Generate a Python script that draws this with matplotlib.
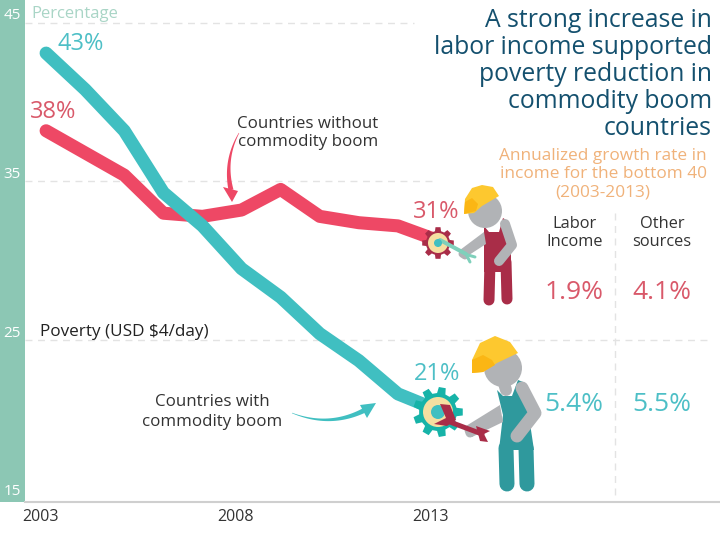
import numpy as np
import matplotlib
matplotlib.use("Agg")
import matplotlib.pyplot as plt
from matplotlib.patches import Polygon, Circle, Rectangle
from matplotlib.transforms import ScaledTranslation

years = [2003, 2004, 2005, 2006, 2007, 2008, 2009, 2010, 2011, 2012, 2013]
with_boom = [43.1, 40.8, 38.2, 34.3, 32.2, 29.5, 27.7, 25.4, 23.7, 21.6, 20.6]
without_boom = [38.2, 36.8, 35.4, 33.0, 32.8, 33.2, 34.5, 32.8, 32.4, 32.2, 31.3]
y_ticks = [45, 35, 25, 15]
x_ticks = [2003, 2008, 2013]
title_lines = ["A strong increase in", "labor income supported", "poverty reduction in", "commodity boom", "countries"]
subtitle = ["Annualized growth rate in", "income for the bottom 40", "(2003-2013)"]
without_rates = ["1.9%", "4.1%"]
with_rates = ["5.4%", "5.5%"]

FONT = "Open Sans"
TEAL = "#40bfc1"
RED = "#ee4865"
REDTXT = "#d9596a"
TEALTXT = "#4dbfc6"
BAND = "#8cc7b4"
GRID = "#e3e3e3"
GREY = "#b1b3b6"
CRIM = "#a92d48"
DTEAL = "#2f999d"
plt.rcParams["font.family"] = [FONT, "DejaVu Sans"]

fig = plt.figure(figsize=(7.2, 5.4), dpi=100, facecolor="white")
fig.patches.append(Rectangle((0, 38 / 540), 25 / 720, 502 / 540, transform=fig.transFigure,
                             facecolor=BAND, edgecolor="none", zorder=-1))
ax = fig.add_axes([25 / 720, 38 / 540, 695 / 720, 502 / 540])
ax.patch.set_alpha(0)
ax.set_xlim(2002.46, 2020.24)
ax.set_ylim(14.78, 46.45)
for s in ["top", "left", "right"]:
    ax.spines[s].set_visible(False)
ax.spines["bottom"].set_color("#cfcfcf")
ax.spines["bottom"].set_linewidth(1.5)

ax.set_yticks(y_ticks)
ax.set_yticklabels([str(v) for v in y_ticks], color="white", fontsize=11)
ax.set_xticks(x_ticks)
ax.set_xticklabels([str(v) for v in x_ticks], color="#333333", fontsize=11.5)
ax.tick_params(length=0, axis="y", pad=3)
ax.tick_params(length=0, axis="x", pad=5)
up = ScaledTranslation(0, 9 / 100, fig.dpi_scale_trans)
left = ScaledTranslation(-6 / 100, 0, fig.dpi_scale_trans)
for lab in ax.get_yticklabels():
    lab.set_transform(lab.get_transform() + up)
for lab in ax.get_xticklabels():
    lab.set_transform(lab.get_transform() + left)

# gridlines
dash = (0, (5, 4))
ax.plot([2002.46, 2012.4], [45, 45], color=GRID, lw=1, ls=dash, zorder=1)
ax.plot([2002.46, 2013.0], [35, 35], color=GRID, lw=1, ls=dash, zorder=1)
ax.plot([2002.46, 2019.9], [25, 25], color=GRID, lw=1, ls=dash, zorder=1)

# series
ax.plot(years, with_boom, color=TEAL, lw=9.4, solid_capstyle="round", solid_joinstyle="round", zorder=3)
ax.plot(years, without_boom, color=RED, lw=9.4, solid_capstyle="round", solid_joinstyle="round", zorder=2)

# overlay in pixels for text and illustration
ov = fig.add_axes([0, 0, 1, 1], zorder=5)
ov.set_xlim(0, 720)
ov.set_ylim(540, 0)
ov.axis("off")
ov.patch.set_alpha(0)


def T(x, y, s, **k):
    k.setdefault("ha", "left")
    k.setdefault("va", "center")
    return ov.text(x, y + 1.5, s, **k)


T(31, 13, "Percentage", color="#a9d5c6", fontsize=12)
T(58, 43, "43%", color=TEALTXT, fontsize=17)
T(30, 110, "38%", color=REDTXT, fontsize=17)
T(413, 210, "31%", color=REDTXT, fontsize=17)
T(414, 372, "21%", color=TEALTXT, fontsize=17)
T(40, 330, "Poverty (USD $4/day)", color="#222222", fontsize=12.3)
T(308, 122, "Countries without", color="#333333", fontsize=12.2, ha="center")
T(308, 141, "commodity boom", color="#333333", fontsize=12.2, ha="center")
T(212, 401, "Countries with", color="#333333", fontsize=12.2, ha="center")
T(212, 421, "commodity boom", color="#333333", fontsize=12.2, ha="center")
for i, line in enumerate(title_lines):
    T(712, 19 + 27 * i, line, color="#14506e", fontsize=17.8, ha="right")
for i, line in enumerate(subtitle):
    T(603, 155 + 18 * i, line, color="#f0b27a", fontsize=12.4, ha="center")
T(575, 223, "Labor", color="#333333", fontsize=11.8, ha="center")
T(575, 240, "Income", color="#333333", fontsize=11.8, ha="center")
T(662, 223, "Other", color="#333333", fontsize=11.8, ha="center")
T(662, 240, "sources", color="#333333", fontsize=11.8, ha="center")
T(574, 291, without_rates[0], color=REDTXT, fontsize=19, ha="center")
T(662, 291, without_rates[1], color=REDTXT, fontsize=19, ha="center")
T(574, 403, with_rates[0], color=TEALTXT, fontsize=19, ha="center")
T(662, 403, with_rates[1], color=TEALTXT, fontsize=19, ha="center")
ov.plot([615, 615], [213, 495], color=GRID, lw=1, ls=dash)


def px(w):
    return w * 0.72


def limb(pts, w, c, z=6):
    a = np.array(pts)
    ov.plot(a[:, 0], a[:, 1], color=c, lw=px(w), solid_capstyle="round", solid_joinstyle="round", zorder=z)


def poly(pts, c, z=6):
    ov.add_patch(Polygon(pts, closed=True, facecolor=c, edgecolor="none", zorder=z))


def gear(cx, cy, r, n, c, z=7):
    pts = []
    for i in range(n):
        a = 2 * np.pi * i / n
        d = 2 * np.pi / n
        for off, rr in [(-0.32, 0.76), (-0.2, 1.0), (0.2, 1.0), (0.32, 0.76)]:
            t = a + off * d
            pts.append((cx + r * rr * np.cos(t), cy + r * rr * np.sin(t)))
    poly(pts, c, z)


def tapered(p0, p1, p2, w0, w1, c):
    t = np.linspace(0, 1, 30)[:, None]
    p0, p1, p2 = map(np.array, (p0, p1, p2))
    b = (1 - t) ** 2 * p0 + 2 * t * (1 - t) * p1 + t ** 2 * p2
    d = np.gradient(b, axis=0)
    n = np.c_[-d[:, 1], d[:, 0]] / np.linalg.norm(d, axis=1)[:, None]
    hw = (w0 + (w1 - w0) * t) / 2
    poly(np.vstack([b + n * hw, (b - n * hw)[::-1]]), c, 4)


# callout arrows
tapered((239, 133), (224, 160), (231, 190), 0.5, 5, RED)
poly([(223, 187), (238, 191), (232, 202)], RED, 4)
tapered((292, 413), (330, 428), (365, 410), 0.5, 5, TEAL)
poly([(360, 405), (376, 403), (367, 418)], TEAL, 4)

# small worker
limb([(490, 262), (489, 300)], 11, CRIM)
limb([(506, 262), (507, 299)], 11, CRIM)
poly([(484, 226), (489, 232), (499, 232), (503, 218), (509, 222), (511, 256), (511, 272), (484, 272)], CRIM)
limb([(505, 224), (512, 245), (499, 261)], 10, GREY, 7)
poly([(484, 232), (486, 244), (466, 257), (460, 250)], GREY, 7)
limb([(462, 254), (465, 256)], 7, GREY, 7)
ov.add_patch(Circle((485, 211), 17, facecolor=GREY, edgecolor="none", zorder=6))
poly([(464, 214), (465, 199), (472, 188), (482, 185), (493, 187), (499, 196), (482, 206), (474, 213)], "#fdc82f", 7)
poly([(464, 214), (465, 202), (472, 198), (478, 204), (476, 211)], "#fbb614", 8)
gear(438, 243, 16, 8, CRIM)
ov.add_patch(Circle((438, 243), 10, facecolor="#f6dfa1", edgecolor="none", zorder=8))
ov.add_patch(Circle((438, 243), 4, facecolor=TEAL, edgecolor="none", zorder=9))
limb([(440, 240), (466, 254)], 4, "#7fd0bb", 8)
limb([(466, 254), (470, 262)], 3, "#7fd0bb", 8)
limb([(468, 255), (475, 257)], 3, "#7fd0bb", 8)

# large worker
limb([(506, 448), (507, 484)], 15, DTEAL)
limb([(526, 448), (527, 484)], 15, DTEAL)
poly([(497, 390), (503, 396), (512, 396), (518, 380), (523, 382), (531, 430), (534, 450), (499, 450), (503, 415)], DTEAL)
limb([(522, 388), (535, 413), (517, 436)], 13, GREY, 7)
poly([(500, 405), (503, 422), (472, 437), (466, 426)], GREY, 7)
limb([(469, 430), (470, 433)], 9, GREY, 7)
limb([(503, 380), (506, 390)], 12, GREY, 5)
ov.add_patch(Circle((503, 368), 19, facecolor=GREY, edgecolor="none", zorder=6))
poly([(472, 373), (472, 360), (480, 343), (495, 336), (510, 342), (518, 353), (497, 363), (483, 372)], "#fdc82f", 7)
poly([(472, 373), (472, 360), (483, 355), (492, 360), (495, 365), (483, 372)], "#fbb614", 8)
gear(438, 412, 25, 9, "#17b3a8")
ov.add_patch(Circle((438, 412), 15, facecolor="#f6dfa1", edgecolor="none", zorder=8))
ov.add_patch(Circle((438, 412), 7, facecolor=TEAL, edgecolor="none", zorder=9))
limb([(450, 422), (482, 434)], 5, CRIM, 9)
poly([(440, 404), (450, 405), (456, 420), (447, 426), (434, 424), (446, 418)], CRIM, 9)
poly([(476, 426), (490, 431), (484, 434), (488, 442), (480, 441)], CRIM, 9)

fig.savefig("out.png", dpi=100)
